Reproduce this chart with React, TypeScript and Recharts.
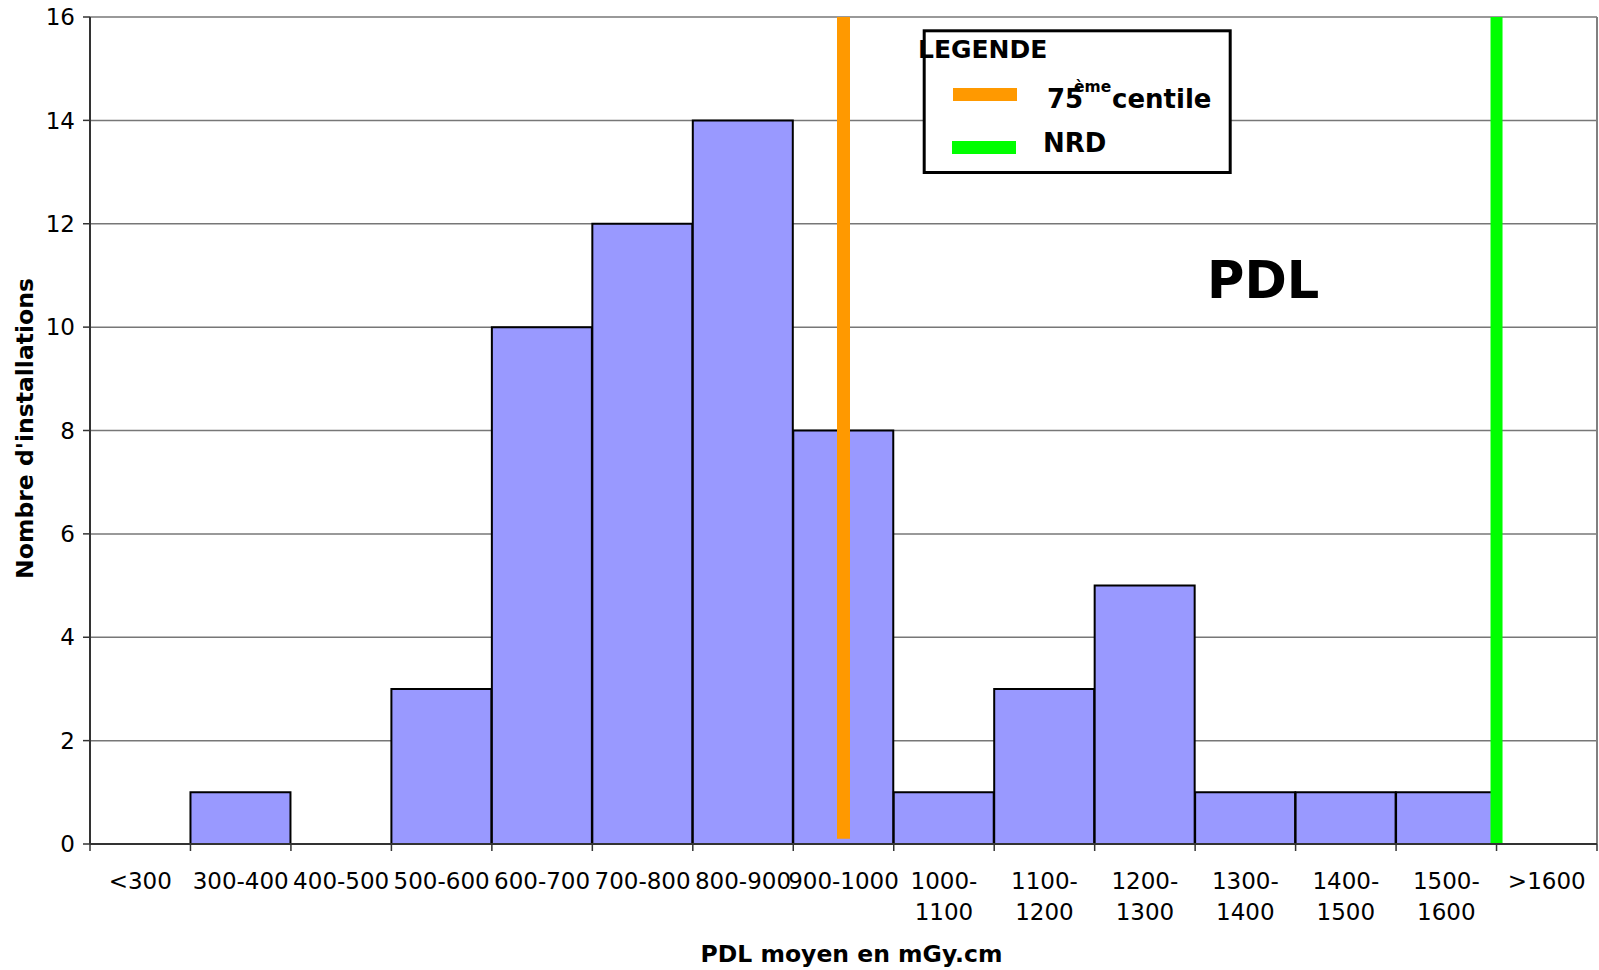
import React from 'react';
import { BarChart, Bar, XAxis, YAxis, CartesianGrid, ReferenceLine } from 'recharts';

const categories = ['<300', '300-400', '400-500', '500-600', '600-700', '700-800', '800-900', '900-1000', '1000-1100', '1100-1200', '1200-1300', '1300-1400', '1400-1500', '1500-1600', '>1600'];
const counts = [0, 1, 0, 3, 10, 12, 14, 8, 1, 3, 5, 1, 1, 1, 0];
const yTicks = [0, 2, 4, 6, 8, 10, 12, 14, 16];
const centile75Category = '900-1000';
const centile75Range = [0.1, 16];
const nrdCategory = '>1600';

const FONT = '"DejaVu Sans", Verdana, sans-serif';

const chartData = categories.map((c, i) => ({ category: c, count: counts[i] }));

const XTick = (props: any) => {
  const { x, y, payload, index } = props;
  const half = typeof payload.offset === 'number' ? payload.offset : 50.23;
  const label: string = String(payload.value);
  const cut = label.indexOf('-');
  const lines = label.length >= 9 && cut > 0 ? [label.slice(0, cut + 1), label.slice(cut + 1)] : [label];
  const isLast = index === categories.length - 1;
  return (
    <g>
      <line x1={x - half} x2={x - half} y1={y - 7} y2={y} stroke="#333" strokeWidth={1.5} />
      {isLast && <line x1={x + half} x2={x + half} y1={y - 7} y2={y} stroke="#333" strokeWidth={1.5} />}
      <text x={x} y={y} textAnchor="middle" fontSize={23} fill="#000" fontFamily={FONT}>
        {lines.map((l, i) => (
          <tspan key={i} x={x} dy={i === 0 ? 38 : 31}>{l}</tspan>
        ))}
      </text>
    </g>
  );
};

export default function App() {
  return (
    <div style={{ position: 'absolute', left: 0, top: 0, width: 1599, height: 970, background: '#fff', fontFamily: FONT }}>
      <BarChart
        width={1599}
        height={970}
        data={chartData}
        margin={{ top: 17, right: 2, left: 0, bottom: 26 }}
        barCategoryGap={0}
        barGap={0}
      >
        <CartesianGrid vertical={false} stroke="#777" strokeWidth={1.5} />
        <XAxis
          dataKey="category"
          height={100}
          interval={0}
          tickLine={false}
          tickSize={7}
          tickMargin={0}
          axisLine={{ stroke: '#333', strokeWidth: 2 }}
          tick={<XTick />}
        />
        <YAxis
          width={90}
          domain={[0, 16]}
          ticks={yTicks}
          interval={0}
          allowDataOverflow
          tickSize={7}
          tickMargin={8}
          axisLine={{ stroke: '#333', strokeWidth: 2 }}
          tickLine={{ stroke: '#333', strokeWidth: 1.5 }}
          tick={{ fontSize: 23, fill: '#000', fontFamily: FONT }}
        />
        <Bar dataKey="count" fill="#9999FF" stroke="#000" strokeWidth={2} isAnimationActive={false} />
        <ReferenceLine
          segment={[{ x: centile75Category, y: centile75Range[1] }, { x: centile75Category, y: centile75Range[0] }]}
          stroke="#FF9900"
          strokeWidth={13}
          ifOverflow="visible"
        />
        <ReferenceLine x={nrdCategory} position="start" stroke="#00FF00" strokeWidth={12} ifOverflow="visible" />
        <ReferenceLine x={nrdCategory} position="end" stroke="#808080" strokeWidth={2} ifOverflow="visible" />
      </BarChart>
      <svg width={1599} height={970} style={{ position: 'absolute', left: 0, top: 0, pointerEvents: 'none' }} fontFamily={FONT}>
        <text x={33} y={428.5} transform="rotate(-90, 33, 428.5)" textAnchor="middle" fontSize={23.5} fontWeight="bold" fill="#000">
          Nombre d'installations
        </text>
        <text x={851.5} y={962} textAnchor="middle" fontSize={23.5} fontWeight="bold" fill="#000">
          PDL moyen en mGy.cm
        </text>
        <text x={1207} y={298} fontSize={51} fontWeight="bold" fill="#000">PDL</text>
        <rect x={924.2} y={30.8} width={306} height={141.7} fill="#fff" stroke="#000" strokeWidth={3} />
        <text x={918} y={58} fontSize={25} fontWeight="bold" fill="#000">LEGENDE</text>
        <rect x={953} y={88} width={64} height={13} fill="#FF9900" />
        <text x={1047} y={108} fontSize={26} fontWeight="bold" fill="#000">75</text>
        <text x={1074} y={92} fontSize={15.5} fontWeight="bold" fill="#000">ème</text>
        <text x={1112} y={108} fontSize={26} fontWeight="bold" fill="#000">centile</text>
        <rect x={952} y={141} width={64} height={13} fill="#00FF00" />
        <text x={1043} y={152} fontSize={26} fontWeight="bold" fill="#000">NRD</text>
      </svg>
    </div>
  );
}
